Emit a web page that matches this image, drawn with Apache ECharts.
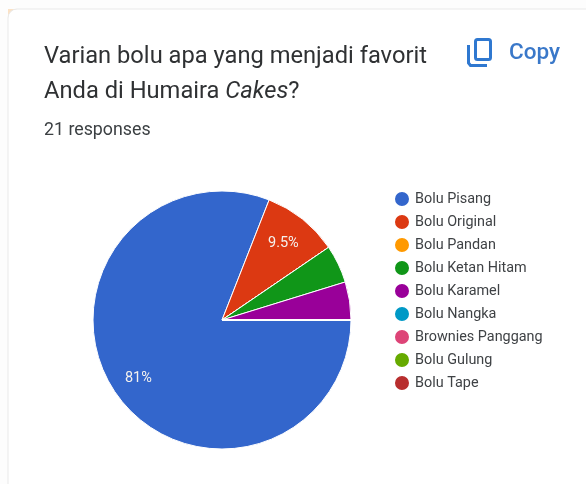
<!DOCTYPE html>
<html>
<head>
<meta charset="utf-8">
<style>
html,body{margin:0;padding:0;background:#fff}
#chart{width:586px;height:484px}
</style>
<script src="https://cdn.jsdelivr.net/npm/echarts@6/dist/echarts.min.js"></script>
</head>
<body>
<div id="chart"></div>
<script>
const categories = ['Bolu Pisang','Bolu Original','Bolu Pandan','Bolu Ketan Hitam','Bolu Karamel','Bolu Nangka','Brownies Panggang','Bolu Gulung','Bolu Tape'];
const responses = [17, 2, 0, 1, 1, 0, 0, 0, 0];
const sliceLabels = ['81%', '9.5%', '', '', '', '', '', '', ''];
const palette = ['#3366cc','#dc3912','#ff9900','#109618','#990099','#0099c6','#dd4477','#66aa00','#b82e2e'];

const rows = categories.map((name, i) => ({ name, value: responses[i] }));
const chart = echarts.init(document.getElementById('chart'), null, { renderer: 'canvas' });

chart.setOption({
  animation: false,
  backgroundColor: '#fdfdfd',
  color: palette,
  textStyle: { fontFamily: 'Roboto' },
  title: [
    {
      left: 39, top: 35,
      text: 'Varian bolu apa yang menjadi favorit\nAnda di Humaira {i|Cakes}?',
      textStyle: {
        fontFamily: 'Roboto', fontSize: 23.7, fontWeight: 400, color: '#2f3133', lineHeight: 35,
        rich: { i: { fontFamily: 'Roboto', fontStyle: 'italic', fontSize: 23.7, color: '#2f3133', lineHeight: 35 } }
      }
    },
    {
      left: 39, top: 117,
      text: '21 responses',
      textStyle: { fontFamily: 'Roboto', fontSize: 17.8, fontWeight: 400, color: '#3c4043' }
    },
    {
      left: 504, top: 37,
      text: 'Copy',
      textStyle: { fontFamily: 'Roboto', fontSize: 22.5, fontWeight: 500, color: '#3a78c9' }
    }
  ],
  legend: {
    orient: 'vertical', left: 388, top: 185,
    icon: 'circle', itemWidth: 16, itemHeight: 16, itemGap: 5,
    selectedMode: false,
    data: categories,
    textStyle: { fontFamily: 'Roboto', fontSize: 14.4, color: '#3f4245' }
  },
  graphic: [
    // tinted corner showing behind the card's rounded edge
    {
      type: 'rect', z: -11, silent: true,
      shape: { x: 8, y: 9, width: 9, height: 9 },
      style: { fill: '#fbe2c6' }
    },
    {
      type: 'rect', z: -10, silent: true,
      shape: { x: 8, y: 9, width: 600, height: 500, r: 9 },
      style: { fill: '#ffffff', stroke: '#e9e9e9', lineWidth: 1 }
    },
    // copy icon: front sheet plus the back sheet's bracket
    {
      type: 'rect', silent: true,
      shape: { x: 475.5, y: 39.5, width: 15, height: 20, r: 2 },
      style: { fill: 'none', stroke: '#2f78d0', lineWidth: 3 }
    },
    {
      type: 'polyline', silent: true,
      shape: { points: [[468.5, 45], [468.5, 63], [470.5, 65.5], [487, 65.5]] },
      style: { fill: 'none', stroke: '#2f78d0', lineWidth: 3 }
    }
  ],
  series: [
    {
      type: 'pie',
      center: [222, 320], radius: 129,
      startAngle: 0, clockwise: true,
      silent: true,
      data: rows,
      label: { show: false }, labelLine: { show: false },
      itemStyle: { borderColor: '#ffffff', borderWidth: 1 }
    },
    {
      // invisible ring that places the percentage labels at the chart's label radius
      type: 'pie',
      center: [222, 320], radius: [65, 129],
      startAngle: 0, clockwise: true,
      silent: true,
      legendHoverLink: false,
      data: rows,
      itemStyle: { color: 'rgba(0,0,0,0)', borderWidth: 0 },
      labelLine: { show: false },
      labelLayout: { dx: -1, dy: 2 },
      label: {
        show: true, position: 'inside', rotate: 0,
        fontFamily: 'Roboto', fontSize: 14.5, color: '#f4f1ee',
        formatter: p => sliceLabels[p.dataIndex]
      }
    }
  ]
});
</script>
</body>
</html>
